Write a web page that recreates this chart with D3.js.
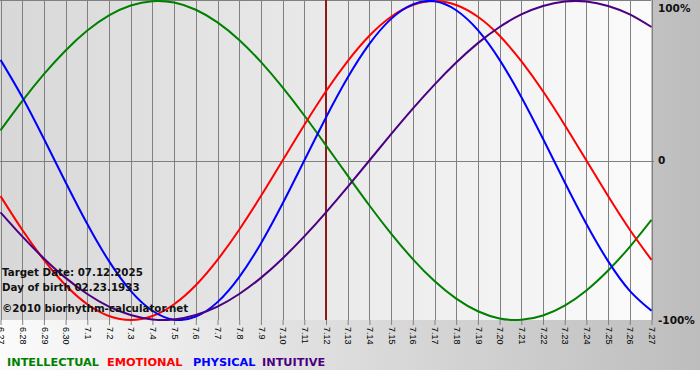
<!DOCTYPE html>
<html><head><meta charset="utf-8">
<script src="https://cdn.jsdelivr.net/npm/d3@7"></script>
<style>html,body{margin:0;padding:0;background:#fff;}svg{display:block;}</style>
</head><body>
<svg id="c" width="700" height="380"></svg>
<script>
const dayLabels = ["6.27","6.28","6.29","6.30","7.1","7.2","7.3","7.4","7.5","7.6","7.7","7.8","7.9","7.10","7.11","7.12","7.13","7.14","7.15","7.16","7.17","7.18","7.19","7.20","7.21","7.22","7.23","7.24","7.25","7.26","7.27"];
const intellectual = [0.189,0.372,0.541,0.690,0.815,0.910,0.972,0.999,0.990,0.945,0.866,0.756,0.618,0.458,0.282,0.095,-0.095,-0.282,-0.458,-0.618,-0.756,-0.866,-0.945,-0.990,-0.999,-0.972,-0.910,-0.815,-0.690,-0.541,-0.372];
const emotional = [-0.223,-0.434,-0.623,-0.782,-0.901,-0.975,-1.000,-0.975,-0.901,-0.782,-0.623,-0.434,-0.223,0.000,0.223,0.434,0.623,0.782,0.901,0.975,1.000,0.975,0.901,0.782,0.623,0.434,0.223,0.000,-0.223,-0.434,-0.623];
const physical = [0.631,0.398,0.136,-0.136,-0.398,-0.631,-0.817,-0.942,-0.998,-0.979,-0.888,-0.731,-0.520,-0.270,0.000,0.270,0.520,0.731,0.888,0.979,0.998,0.942,0.817,0.631,0.398,0.136,-0.136,-0.398,-0.631,-0.817,-0.942];
const intuitive = [-0.325,-0.476,-0.614,-0.736,-0.837,-0.916,-0.969,-0.997,-0.997,-0.969,-0.916,-0.837,-0.736,-0.614,-0.476,-0.325,-0.165,0.000,0.165,0.325,0.476,0.614,0.736,0.837,0.916,0.969,0.997,0.997,0.969,0.916,0.837];
const targetIndex = 15;
const yTicks = [1, 0, -1];
const yTickLabels = ["100%", "0", "-100%"];
const seriesNames = ["INTELLECTUAL","EMOTIONAL","PHYSICAL","INTUITIVE"];
const infoLines = ["Target Date: 07.12.2025","Day of birth 02.23.1933","\u00a92010 biorhythm-calculator.net"];

const svg = d3.select("#c");
const W = 700, H = 380;
const plotL = 0, plotR = 651, plotT = 1, plotB = 320;
const colors = ["#008000","#ff0000","#0000ff","#4b0082"];
const series = [intellectual, emotional, physical, intuitive];

const defs = svg.append("defs");
const g1 = defs.append("linearGradient").attr("id","outer").attr("x1","0").attr("x2","1").attr("y1","0").attr("y2","0");
g1.append("stop").attr("offset","0").attr("stop-color","#fbfbfb");
g1.append("stop").attr("offset","1").attr("stop-color","#bdbdbd");
const g2 = defs.append("linearGradient").attr("id","inner").attr("x1","0").attr("x2","1").attr("y1","0").attr("y2","0");
g2.append("stop").attr("offset","0").attr("stop-color","#d8d8d8");
g2.append("stop").attr("offset","1").attr("stop-color","#fbfbfb");
defs.append("clipPath").attr("id","clip").append("rect")
  .attr("x",plotL).attr("y",0).attr("width",plotR-plotL+1).attr("height",plotB+1);

svg.append("rect").attr("x",0).attr("y",0).attr("width",W).attr("height",370).attr("fill","url(#outer)");
svg.append("rect").attr("x",plotL).attr("y",0).attr("width",plotR-plotL).attr("height",plotB).attr("fill","url(#inner)");

const x = d3.scaleLinear().domain([0, dayLabels.length-1]).range([plotL+0.5, plotR+0.5]);
const y = d3.scaleLinear().domain([-1, 1]).range([plotB, plotT]);

// vertical grid
svg.append("g").selectAll("line").data(dayLabels).join("line")
  .attr("x1",(d,i)=>Math.round(x(i))+0.5).attr("x2",(d,i)=>Math.round(x(i))+0.5)
  .attr("y1",0).attr("y2",plotB).attr("stroke","#808080").attr("stroke-width",1);
// top border and zero line
svg.append("line").attr("x1",0).attr("x2",plotR).attr("y1",0.5).attr("y2",0.5).attr("stroke","#808080");
svg.append("line").attr("x1",0).attr("x2",plotR+3).attr("y1",Math.round(y(0))+0.5).attr("y2",Math.round(y(0))+0.5).attr("stroke","#808080");

// x axis
const ax = svg.append("g").attr("transform",`translate(0,${plotB})`)
  .call(d3.axisBottom(x).tickValues(d3.range(dayLabels.length)).tickFormat(i=>dayLabels[i]).tickSize(5).tickSizeOuter(0));
ax.select(".domain").remove();
ax.selectAll(".tick line").attr("stroke","#808080");
ax.selectAll(".tick text")
  .attr("font-family","Liberation Sans, Arial, sans-serif").attr("font-size","9px").attr("fill","#000")
  .attr("text-anchor","start").attr("transform","rotate(90)").attr("x",7).attr("y",0).attr("dy","0.32em");

// y labels
svg.append("g").selectAll("text").data(yTicks).join("text")
  .attr("x",658).attr("y",d=>Math.max(8, y(d))).attr("dy","0.35em")
  .attr("font-family","DejaVu Sans, Verdana, sans-serif").attr("font-weight","bold").attr("font-size","10.5px")
  .attr("fill","#111").text((d,i)=>yTickLabels[i]);

// target line
svg.append("line").attr("x1",x(targetIndex)).attr("x2",x(targetIndex)).attr("y1",0).attr("y2",plotB)
  .attr("stroke","#8b1a1a").attr("stroke-width",2);

// curves
const line = d3.line().x((d,i)=>x(i)).y(d=>y(d)).curve(d3.curveNatural);
svg.append("g").attr("clip-path","url(#clip)").selectAll("path").data(series).join("path")
  .attr("d",d=>line(d)).attr("fill","none").attr("stroke",(d,i)=>colors[i]).attr("stroke-width",2);

// info text
const infoY = [276, 291, 312];
svg.append("g").selectAll("text").data(infoLines).join("text")
  .attr("x",2).attr("y",(d,i)=>infoY[i])
  .attr("font-family","DejaVu Sans, Verdana, sans-serif").attr("font-weight","bold").attr("font-size","10.3px")
  .attr("fill","#111").text(d=>d);

// legend
const legX = [7, 107, 193, 262];
svg.append("g").selectAll("text").data(seriesNames).join("text")
  .attr("x",(d,i)=>legX[i]).attr("y",366)
  .attr("font-family","DejaVu Sans, Verdana, sans-serif").attr("font-weight","bold").attr("font-size","11.3px")
  .attr("fill",(d,i)=>colors[i]).text(d=>d);
</script>
</body></html>
